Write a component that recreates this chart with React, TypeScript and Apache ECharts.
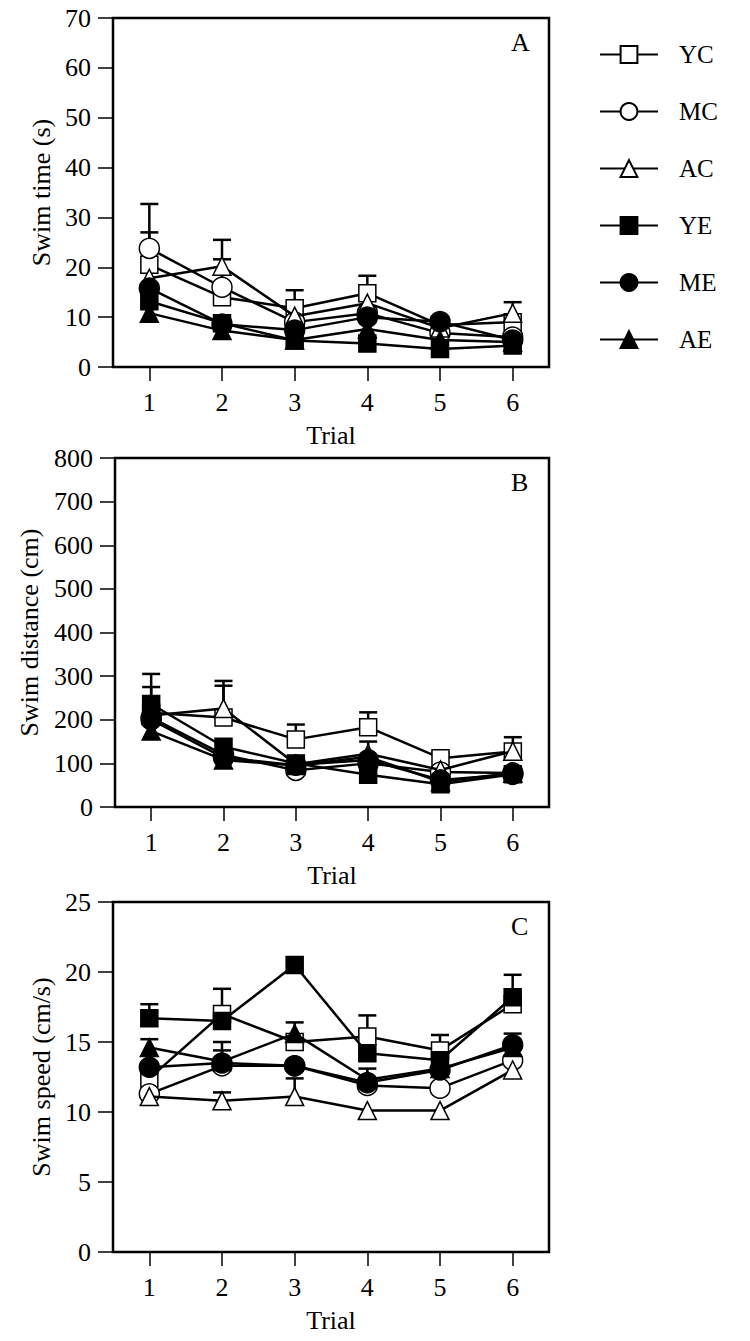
import React, { useEffect, useRef } from 'react';
import * as echarts from 'echarts';

const trials = ['1', '2', '3', '4', '5', '6'];
const groups = ['YC', 'MC', 'AC', 'YE', 'ME', 'AE'];
const groupSymbols = ['rect', 'circle', 'triangle', 'rect', 'circle', 'triangle'];
const groupFilled = [false, false, false, true, true, true];

// Panel A: swim time (s)
const timeYC = [20.5, 14.0, 11.8, 14.8, 8.4, 9.0];
const timeMC = [23.8, 16.0, 9.0, 10.8, 6.8, 6.0];
const timeAC = [17.8, 20.2, 10.2, 12.8, 7.8, 10.8];
const timeYE = [13.2, 8.8, 5.3, 4.7, 3.6, 4.3];
const timeME = [15.8, 8.6, 7.4, 10.0, 9.1, 5.4];
const timeAE = [10.8, 7.3, 5.4, 7.6, 5.4, 5.0];
// upper error values (mean + SE), null = hidden
const timeErrYC = [27.0, null, 15.4, 18.3, null, null];
const timeErrMC = [32.7, 21.6, null, null, null, null];
const timeErrAC = [null, 25.5, null, null, null, 13.0];
const timeErrYE = [null, null, null, null, null, null];
const timeErrME = [null, null, null, null, null, null];
const timeErrAE = [null, null, null, null, null, null];

// Panel B: swim distance (cm)
const distYC = [216, 205, 155, 183, 112, 127];
const distMC = [205, 120, 84, 100, 80, 78];
const distAC = [210, 226, 98, 122, 85, 128];
const distYE = [236, 138, 100, 74, 52, 75];
const distME = [200, 113, 96, 108, 62, 75];
const distAE = [174, 108, 95, 115, 58, 78];
const distErrYC = [305, 278, 189, 217, 125, 160];
const distErrMC = [null, null, null, null, null, null];
const distErrAC = [null, 289, null, 150, 120, null];
const distErrYE = [275, null, null, null, null, null];
const distErrME = [null, null, null, null, null, null];
const distErrAE = [null, null, null, null, null, null];

// Panel C: swim speed (cm/s)
const speedYC = [12.4, 17.0, 15.0, 15.4, 14.4, 17.7];
const speedMC = [11.3, 13.3, 13.3, 11.9, 11.7, 13.7];
const speedAC = [11.1, 10.8, 11.1, 10.1, 10.1, 13.0];
const speedYE = [16.7, 16.5, 20.5, 14.2, 13.7, 18.2];
const speedME = [13.2, 13.5, 13.3, 12.1, 13.0, 14.8];
const speedAE = [14.6, 13.6, 15.6, 12.3, 13.1, 14.6];
const speedErrYC = [null, 18.8, null, 16.9, 15.5, null];
const speedErrMC = [null, null, null, null, null, null];
const speedErrAC = [null, 11.4, 12.4, null, null, null];
const speedErrYE = [17.7, null, null, null, null, 19.8];
const speedErrME = [null, 14.4, null, 13.1, null, 15.6];
const speedErrAE = [15.2, 15.0, 16.4, null, null, null];

const panelNames = ['Swim time (s)', 'Swim distance (cm)', 'Swim speed (cm/s)'];
const panelLetters = ['A', 'B', 'C'];
const panelMax = [70, 800, 25];
const panelInterval = [10, 100, 5];

const FONT = 'Liberation Serif';

export default function App() {
  const ref = useRef<HTMLDivElement>(null);
  useEffect(() => {
    if (!ref.current) return;
    const chart = echarts.init(ref.current, undefined, { renderer: 'svg' });

    const means = [
      [timeYC, timeMC, timeAC, timeYE, timeME, timeAE],
      [distYC, distMC, distAC, distYE, distME, distAE],
      [speedYC, speedMC, speedAC, speedYE, speedME, speedAE],
    ];
    const errs = [
      [timeErrYC, timeErrMC, timeErrAC, timeErrYE, timeErrME, timeErrAE],
      [distErrYC, distErrMC, distErrAC, distErrYE, distErrME, distErrAE],
      [speedErrYC, speedErrMC, speedErrAC, speedErrYE, speedErrME, speedErrAE],
    ];

    const grids = [
      { left: 113, top: 18, width: 436, height: 349 },
      { left: 115, top: 458, width: 434, height: 349 },
      { left: 113, top: 902, width: 436, height: 350 },
    ];
    const nameGaps = [58, 73, 58];

    const symbolSize = (s: string) => (s === 'rect' ? 17 : s === 'circle' ? 20 : 18);

    const series: any[] = [];
    for (let p = 0; p < 3; p++) {
      const errData: any[] = [];
      errs[p].forEach((arr, g) => {
        arr.forEach((v, i) => {
          if (v != null) errData.push([i, means[p][g][i], v]);
        });
      });
      series.push({
        type: 'custom',
        name: 'err' + p,
        xAxisIndex: p,
        yAxisIndex: p,
        z: 1,
        silent: true,
        encode: { x: 0, y: 1 },
        data: errData,
        renderItem: (params: any, api: any) => {
          const x = api.value(0);
          const p0 = api.coord([x, api.value(1)]);
          const p1 = api.coord([x, api.value(2)]);
          const st = { stroke: '#000', lineWidth: 2.5 };
          return {
            type: 'group',
            children: [
              { type: 'line', shape: { x1: p0[0], y1: p0[1], x2: p1[0], y2: p1[1] }, style: st },
              { type: 'line', shape: { x1: p1[0] - 9, y1: p1[1], x2: p1[0] + 9, y2: p1[1] }, style: st },
            ],
          };
        },
      });
      groups.forEach((g, gi) => {
        series.push({
          type: 'line',
          name: g,
          xAxisIndex: p,
          yAxisIndex: p,
          z: 2 + gi * 0.1,
          data: means[p][gi],
          symbol: groupSymbols[gi],
          symbolSize: symbolSize(groupSymbols[gi]),
          showAllSymbol: true,
          lineStyle: { color: '#000', width: 2.5 },
          itemStyle: {
            color: groupFilled[gi] ? '#000' : '#fff',
            borderColor: '#000',
            borderWidth: 1.5,
          },
          emphasis: { disabled: true },
        });
      });
    }

    const option: any = {
      animation: false,
      backgroundColor: '#fff',
      grid: grids.map((g) => ({
        ...g,
        show: true,
        borderColor: '#000',
        borderWidth: 2.5,
        backgroundColor: 'transparent',
      })),
      xAxis: grids.map((_, p) => ({
        type: 'category',
        gridIndex: p,
        data: trials,
        boundaryGap: true,
        name: 'Trial',
        nameLocation: 'middle',
        nameGap: 55,
        nameTextStyle: { fontFamily: FONT, fontSize: 26, color: '#000' },
        axisLine: { show: false },
        axisTick: { show: true, alignWithLabel: true, length: 14, lineStyle: { color: '#000', width: 1.5 } },
        axisLabel: { fontFamily: FONT, fontSize: 26, color: '#000', margin: 22 },
        splitLine: { show: false },
      })),
      yAxis: grids.map((_, p) => ({
        type: 'value',
        gridIndex: p,
        min: 0,
        max: panelMax[p],
        interval: panelInterval[p],
        name: panelNames[p],
        nameLocation: 'middle',
        nameGap: nameGaps[p],
        nameTextStyle: { fontFamily: FONT, fontSize: 26, color: '#000' },
        axisLine: { show: false },
        axisTick: { show: true, length: 15, lineStyle: { color: '#000', width: 1.5 } },
        axisLabel: { fontFamily: FONT, fontSize: 26, color: '#000', margin: 22 },
        splitLine: { show: false },
      })),
      legend: {
        data: groups,
        orient: 'vertical',
        left: 594,
        top: 37,
        itemWidth: 58,
        itemHeight: 21,
        itemGap: 32,
        selectedMode: false,
        textStyle: { fontFamily: FONT, fontSize: 25, color: '#000', padding: [0, 0, 0, 16] },
      },
      graphic: grids.map((g, p) => ({
        type: 'text',
        left: g.left + g.width - 38,
        top: g.top + 11,
        style: { text: panelLetters[p], font: `26px "${FONT}"`, fill: '#000' },
      })),
      series,
    };
    chart.setOption(option);
    return () => chart.dispose();
  }, []);
  return (
    <div
      ref={ref}
      style={{ position: 'fixed', left: 0, top: 0, width: 750, height: 1341, background: '#fff' }}
    />
  );
}
